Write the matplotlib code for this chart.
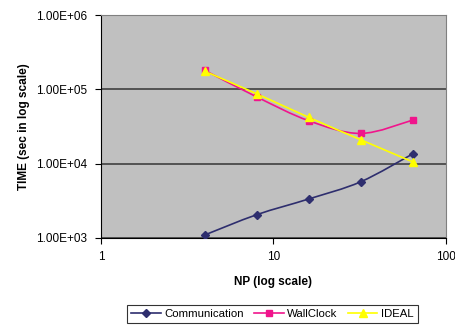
import numpy as np
import matplotlib
matplotlib.use("Agg")
import matplotlib.pyplot as plt
from matplotlib.path import Path
from matplotlib.patches import PathPatch
from matplotlib.lines import Line2D
from matplotlib.ticker import FixedLocator, FuncFormatter, NullLocator

plt.rcParams['font.family'] = ['Liberation Sans', 'DejaVu Sans']

np_procs = [4, 8, 16, 32, 64]
communication = [1100, 2060, 3350, 5700, 13500]
wallclock = [180000, 79000, 37800, 25500, 38500]
ideal = [175000, 87000, 42000, 21000, 10600]

series = [
    ("Communication", communication, "#2E2E6E", "D", 4),
    ("WallClock", wallclock, "#F0158C", "s", 5),
    ("IDEAL", ideal, "#FFFF00", "^", 6),
]

fig = plt.figure(figsize=(4.56, 3.27), dpi=100)
ax = fig.add_axes([101/456, 1-238/327, 345/456, 223/327])
ax.set_xscale('log')
ax.set_yscale('log')
ax.set_xlim(1, 100)
ax.set_ylim(1e3, 1e6)
ax.set_facecolor('#C0C0C0')


def smooth_path(xs, ys):
    lx = np.log10(np.array(xs, float))
    ly = np.log10(np.array(ys, float))
    pts = np.column_stack([lx, ly])
    n = len(pts)
    verts = [pts[0]]
    codes = [Path.MOVETO]
    for i in range(n - 1):
        p0 = pts[i - 1] if i > 0 else pts[i]
        p1 = pts[i]
        p2 = pts[i + 1]
        p3 = pts[i + 2] if i + 2 < n else pts[i + 1]
        c1 = p1 + (p2 - p0) / 6.0
        c2 = p2 - (p3 - p1) / 6.0
        verts += [c1, c2, p2]
        codes += [Path.CURVE4] * 3
    verts = 10 ** np.array(verts)
    return Path(verts, codes)

handles = []
for name, vals, col, mk, ms in series:
    patch = PathPatch(smooth_path(np_procs, vals), facecolor='none',
                      edgecolor=col, lw=1.2, zorder=3)
    ax.add_patch(patch)
    ax.plot(np_procs, vals, linestyle='none', marker=mk, color=col,
            markersize=ms, zorder=4)
    handles.append(Line2D([0], [0], color=col, lw=1.2, marker=mk,
                          markersize=ms, label=name))

ax.yaxis.set_major_locator(FixedLocator([1e3, 1e4, 1e5, 1e6]))
ax.yaxis.set_minor_locator(NullLocator())
ax.xaxis.set_major_locator(FixedLocator([1, 10, 100]))
ax.xaxis.set_minor_locator(NullLocator())
ax.yaxis.set_major_formatter(FuncFormatter(lambda v, p: "%.2fE+%02d" % (1.0, int(round(np.log10(v))))))
ax.xaxis.set_major_formatter(FuncFormatter(lambda v, p: "%d" % v))
ax.grid(axis='y', color='#404040', lw=1.2, zorder=1)
ax.set_axisbelow(True)

for s in ['top', 'right']:
    ax.spines[s].set_color('#808080')
    ax.spines[s].set_linewidth(0.8)
for s in ['left', 'bottom']:
    ax.spines[s].set_color('black')
    ax.spines[s].set_linewidth(0.8)

ax.tick_params(axis='both', direction='out', length=4, width=0.8,
               labelsize=8.5, colors='black')
ax.tick_params(axis='y', pad=6)
ax.tick_params(axis='x', pad=5)

ax.set_xlabel("NP (log scale)", fontsize=8.5, fontweight='bold', labelpad=10)
ax.set_ylabel("TIME (sec in log scale)", fontsize=8.5, fontweight='bold', labelpad=4)

leg = fig.legend(handles=handles, loc='center', bbox_to_anchor=(272.5/456, 1-314/327),
                 ncol=3, fontsize=8.2, frameon=True, fancybox=False,
                 edgecolor='black', handlelength=2.6, columnspacing=0.9,
                 handletextpad=0.3, borderpad=0.35, borderaxespad=0)
leg.get_frame().set_linewidth(0.8)

fig.savefig("out.png", dpi=100)
